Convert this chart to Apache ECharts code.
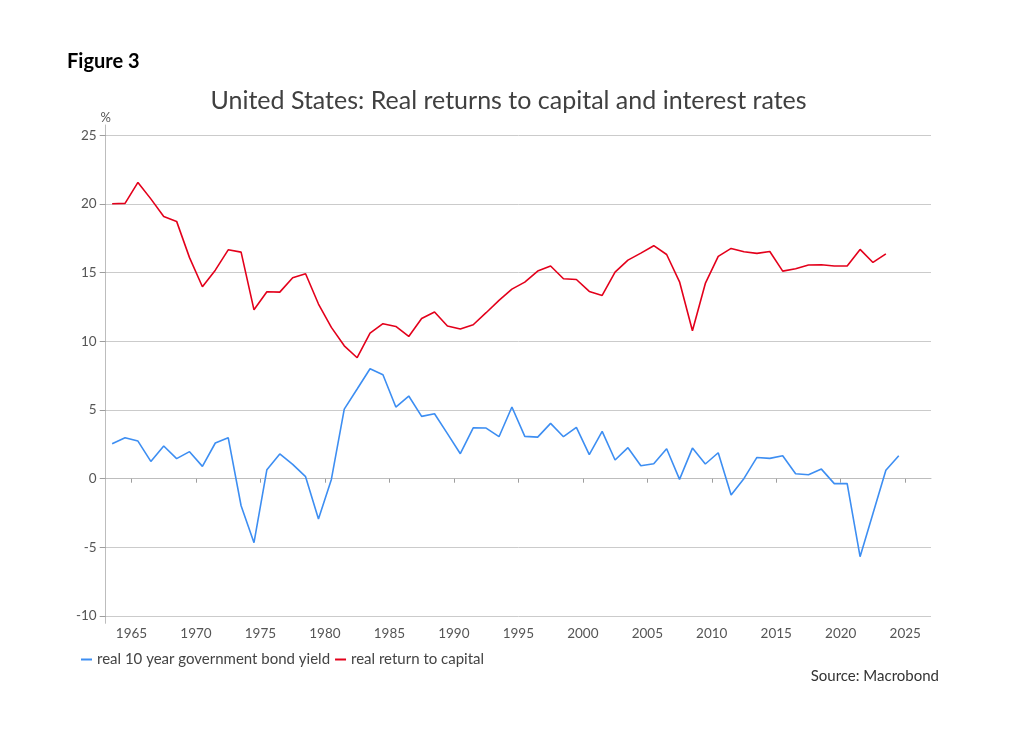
<!DOCTYPE html>
<html>
<head>
<meta charset="utf-8">
<script src="https://cdn.jsdelivr.net/npm/echarts@6/dist/echarts.min.js"></script>
<style>
html,body{margin:0;padding:0;background:#fff;}
#chart{width:1017px;height:732px;}
</style>
</head>
<body>
<div id="chart"></div>
<script>
// Data (annual, plotted at mid-year)
var years = [];
for (var y = 1963; y <= 2024; y++) years.push(y);

var bondYield = [2.55, 2.99, 2.74, 1.26, 2.38, 1.46, 1.97, 0.90, 2.60, 2.99,
  -1.97, -4.66, 0.66, 1.80, 1.04, 0.15, -2.94, -0.05, 5.07, 6.53,
  8.01, 7.57, 5.22, 6.02, 4.54, 4.73, 3.28, 1.82, 3.71, 3.69,
  3.06, 5.22, 3.08, 3.03, 4.03, 3.06, 3.74, 1.75, 3.45, 1.36,
  2.26, 0.95, 1.09, 2.18, -0.05, 2.23, 1.07, 1.89, -1.19, 0.02,
  1.55, 1.48, 1.67, 0.36, 0.29, 0.70, -0.36, -0.36, -5.68, -2.54,
  0.61, 1.67];

var returnCapital = [20.02, 20.05, 21.58, 20.38, 19.10, 18.74, 16.10, 13.98, 15.19, 16.67,
  16.50, 12.30, 13.62, 13.59, 14.64, 14.93, 12.72, 11.02, 9.68, 8.81,
  10.60, 11.29, 11.09, 10.36, 11.67, 12.14, 11.12, 10.90, 11.21, 12.09,
  12.99, 13.81, 14.32, 15.12, 15.49, 14.56, 14.51, 13.64, 13.35, 15.05,
  15.92, 16.43, 16.97, 16.33, 14.34, 10.78, 14.22, 16.19, 16.77, 16.53,
  16.41, 16.55, 15.12, 15.29, 15.56, 15.58, 15.49, 15.49, 16.70, 15.75,
  16.38];

var xTicks = [1965, 1970, 1975, 1980, 1985, 1990, 1995, 2000, 2005, 2010, 2015, 2020, 2025];
var yTicks = [-10, -5, 0, 5, 10, 15, 20, 25];

var seriesNames = ['real 10 year government bond yield', 'real return to capital'];

function toPoints(vals) {
  return vals.map(function (v, i) { return [years[i] + 0.5, v]; });
}

var FONT = 'Lato';
var chart = echarts.init(document.getElementById('chart'), null, {renderer: 'canvas'});
chart.setOption({
  animation: false,
  backgroundColor: '#fff',
  title: {
    text: 'United States: Real returns to capital and interest rates',
    left: 'center',
    top: 83,
    textStyle: {fontFamily: FONT, fontSize: 25, fontWeight: 'normal', color: '#404040'}
  },
  graphic: [
    {type: 'text', left: 67, top: 52, style: {text: 'Figure 3', font: 'bold 20px Lato', fill: '#000'}},
    {type: 'text', right: 1017 - 939, top: 669, style: {text: 'Source: Macrobond', font: '15px Lato', fill: '#333'}}
  ],
  legend: {
    left: 76, top: 647,
    itemWidth: 11, itemHeight: 2, itemGap: 5,
    icon: 'rect',
    textStyle: {fontFamily: FONT, fontSize: 15, color: '#444'},
    data: seriesNames
  },
  grid: {left: 105.7, right: 86, top: 125, bottom: 108.7},
  xAxis: {
    type: 'value', min: 1963, max: 2027,
    axisLine: {show: true, lineStyle: {color: '#bdbdbd', width: 1}},
    axisTick: {show: true, length: 4, customValues: xTicks, lineStyle: {color: '#9e9e9e'}},
    axisLabel: {customValues: xTicks, margin: 3, fontFamily: FONT, fontSize: 13.5, color: '#555',
      formatter: function (v) { return String(v); }},
    splitLine: {show: false}
  },
  yAxis: {
    type: 'value', min: -10.53, max: 25.76,
    name: '%', nameLocation: 'end', nameGap: 1,
    nameTextStyle: {fontFamily: FONT, fontSize: 13, color: '#555', align: 'center'},
    axisLine: {show: true, lineStyle: {color: '#bdbdbd', width: 1}},
    axisTick: {show: true, length: 6, customValues: yTicks, lineStyle: {color: '#9e9e9e'}},
    axisLabel: {customValues: yTicks, margin: 9, fontFamily: FONT, fontSize: 13.5, color: '#555'},
    splitLine: {show: true, lineStyle: {color: '#cbcbcb', width: 1}}
  },
  series: [
    {
      name: seriesNames[0], type: 'line', data: toPoints(bondYield),
      showSymbol: false, symbol: 'none', color: '#3d8ef2',
      lineStyle: {width: 1.6, color: '#3d8ef2'}
    },
    {
      name: seriesNames[1], type: 'line', data: toPoints(returnCapital),
      showSymbol: false, symbol: 'none', color: '#e3001b',
      lineStyle: {width: 1.6, color: '#e3001b'}
    }
  ]
});
</script>
</body>
</html>
